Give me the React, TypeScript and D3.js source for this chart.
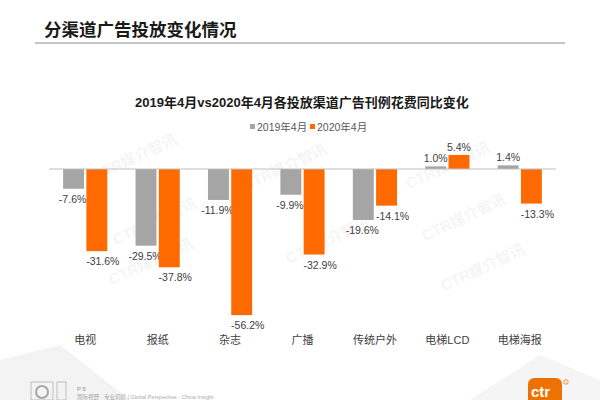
import React from "react";
import * as d3 from "d3";

const categories = ["电视", "报纸", "杂志", "广播", "传统户外", "电梯LCD", "电梯海报"];
const series = ["2019年4月", "2020年4月"];
const values2019 = [-7.6, -29.5, -11.9, -9.9, -19.6, 1.0, 1.4];
const values2020 = [-31.6, -37.8, -56.2, -32.9, -14.1, 5.4, -13.3];
const colors = ["#a5a5a5", "#ff6a00"];

const W = 600;
const H = 400;
const FONT = "'Liberation Sans', 'Noto Sans CJK SC', sans-serif";

const watermarks = [
  [137, 162], [287, 172], [157, 226], [153, 266], [450, 170], [466, 222], [485, 272], [330, 245],
];

export default function App() {
  const x = d3.scaleBand<string>().domain(categories).range([49, 556]).paddingInner(0.39).paddingOuter(0.195);
  const x1 = d3.scaleBand<string>().domain(series).range([0, x.bandwidth()]).paddingInner(0.1);
  const y = d3.scaleLinear().domain([-60, 10]).range([325, 143]);
  const data = [values2019, values2020];
  const fmt = (v: number) => `${v.toFixed(1)}%`;
  const labelShift = [-1, 6];

  return (
    <div style={{ position: "fixed", left: 0, top: 0 }}>
      <svg width={W} height={H} style={{ display: "block", fontFamily: FONT }}>
        <rect width={W} height={H} fill="#ffffff" />
        {/* faint background shapes at bottom */}
        <polygon points="0,360 60,345 130,400 0,400" fill="#f3f3f3" />
        <polygon points="470,400 540,355 600,380 600,400" fill="#f5f5f5" />
        {/* header */}
        <text x={44} y={36} fontSize={17.5} fontWeight="bold" fill="#1a1a1a" fontFamily="'Noto Sans CJK SC', sans-serif">
          分渠道广告投放变化情况
        </text>
        <line x1={35} x2={565} y1={43} y2={43} stroke="#b3b3b3" strokeWidth={1.5} />
        {/* watermarks */}
        {watermarks.map(([wx, wy], i) => (
          <text key={i} x={wx} y={wy} fontSize={15} fontWeight="bold" fill="#000" opacity={0.035}
            textAnchor="middle" transform={`rotate(-25 ${wx} ${wy})`}>
            CTR媒介智讯
          </text>
        ))}
        {/* chart title */}
        <text x={302} y={107} fontSize={13} fontWeight="bold" fill="#1a1a1a" textAnchor="middle">
          2019年4月vs2020年4月各投放渠道广告刊例花费同比变化
        </text>
        {/* legend */}
        {series.map((s, i) => {
          const lx = i === 0 ? 250 : 310;
          return (
            <g key={s}>
              <rect x={lx} y={124} width={5} height={5} fill={colors[i]} />
              <text x={lx + 7} y={131} fontSize={10.5} fill="#595959">{s}</text>
            </g>
          );
        })}
        {/* bars */}
        {categories.map((c, ci) => (
          <g key={c} transform={`translate(${x(c)},0)`}>
            {series.map((s, si) => {
              const v = data[si][ci];
              const y0 = y(0);
              const yv = y(v);
              const top = Math.min(y0, yv);
              const h = Math.abs(yv - y0);
              const bx = x1(s)!;
              const bw = x1.bandwidth();
              return (
                <g key={s}>
                  <rect x={bx} y={top} width={bw} height={h} fill={colors[si]} />
                  <text x={bx + bw / 2 + (v < 0 ? labelShift[si] : 0)} y={v < 0 ? yv + 14 : yv - 4} fontSize={10.5} fill="#404040" textAnchor="middle">
                    {fmt(v)}
                  </text>
                </g>
              );
            })}
            <text x={x.bandwidth() / 2} y={344} fontSize={11} fill="#404040" textAnchor="middle">{c}</text>
          </g>
        ))}
        <line x1={49} x2={556} y1={y(0)} y2={y(0)} stroke="#c0c0c0" strokeWidth={1.2} />
        {/* footer */}
        <g opacity={0.7}>
          <rect x={31} y={382} width={22} height={18} fill="none" stroke="#999" strokeWidth={0.8} />
          <circle cx={42} cy={392} r={6} fill="none" stroke="#888" strokeWidth={2} />
          <rect x={57} y={382} width={9} height={18} fill="none" stroke="#999" strokeWidth={0.8} />
          <text x={77} y={391} fontSize={6} fill="#666">P 5</text>
          <text x={77} y={399} fontSize={5.5} fill="#888">国际视野 · 专业洞察 | Global Perspective · China Insight</text>
        </g>
        <rect x={528} y={378} width={34} height={30} rx={6} fill="#ee7203" />
        <text x={531} y={397} fontSize={15} fontWeight="bold" fill="#fff">ctr</text>
        <circle cx={566} cy={382} r={2.2} fill="none" stroke="#ee7203" strokeWidth={0.8} />
      </svg>
    </div>
  );
}
